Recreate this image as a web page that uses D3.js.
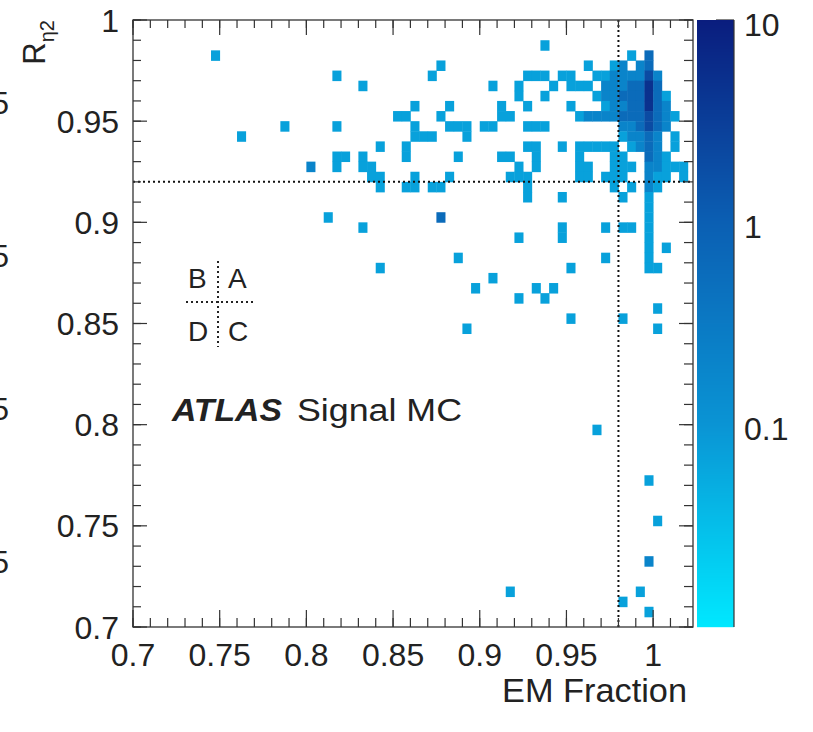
<!DOCTYPE html>
<html>
<head>
<meta charset="utf-8">
<script src="https://cdn.jsdelivr.net/npm/d3@7"></script>
<style>
  body { margin: 0; background: #fff; }
  text { font-family: "Liberation Sans", Arial, Helvetica, sans-serif; fill: #222; }
</style>
</head>
<body>
<svg id="chart" width="813" height="732"></svg>
<script>
// axis ranges and ticks
const xDomain = [0.7, 1.023];
const yDomain = [0.7, 1.0];
const zDomain = [0.01, 10];
const binWidth = 0.005;
const xTickLabels = [0.7, 0.75, 0.8, 0.85, 0.9, 0.95, 1];
const yTickLabels = [0.7, 0.75, 0.8, 0.85, 0.9, 0.95, 1];
const zTickLabels = [0.1, 1, 10];
const cutEM = 0.98, cutR = 0.92;

// histogram content, one row per R_eta2 bin (lower edges)
const rowY = [0.985, 0.98, 0.975, 0.97, 0.965, 0.96, 0.955, 0.95, 0.945, 0.94, 0.935, 0.93,
  0.925, 0.92, 0.915, 0.91, 0.905, 0.9, 0.895, 0.89, 0.885, 0.88, 0.875, 0.87, 0.865, 0.86,
  0.855, 0.85, 0.845, 0.795, 0.77, 0.75, 0.73, 0.715, 0.71, 0.705];
// EM fraction bin lower edges in each row
const rowX = [
  [0.935],
  [0.745, 0.985, 0.995],
  [0.875, 0.96, 0.975, 0.98, 0.99, 0.995],
  [0.815, 0.87, 0.925, 0.93, 0.935, 0.945, 0.95, 0.965, 0.97, 0.975, 0.98, 0.985, 0.99, 0.995, 1.0],
  [0.83, 0.905, 0.92, 0.94, 0.95, 0.955, 0.96, 0.97, 0.975, 0.98, 0.985, 0.99, 0.995, 1.0],
  [0.92, 0.935, 0.965, 0.97, 0.975, 0.98, 0.985, 0.99, 0.995, 1.0, 1.005],
  [0.86, 0.88, 0.91, 0.925, 0.95, 0.97, 0.975, 0.98, 0.985, 0.99, 0.995, 1.0, 1.005],
  [0.85, 0.855, 0.875, 0.91, 0.915, 0.955, 0.96, 0.965, 0.97, 0.975, 0.98, 0.985, 0.99, 0.995, 1.0, 1.005, 1.01],
  [0.785, 0.815, 0.86, 0.88, 0.885, 0.89, 0.9, 0.905, 0.925, 0.93, 0.935, 0.98, 0.985, 0.99, 0.995, 1.0, 1.005],
  [0.76, 0.86, 0.865, 0.87, 0.89, 0.98, 0.985, 0.99, 0.995, 1.0, 1.01],
  [0.84, 0.855, 0.925, 0.93, 0.945, 0.955, 0.96, 0.965, 0.97, 0.975, 0.985, 0.99, 0.995, 1.0, 1.01],
  [0.815, 0.82, 0.83, 0.855, 0.885, 0.91, 0.915, 0.93, 0.955, 0.975, 0.98, 0.995, 1.0, 1.005],
  [0.8, 0.815, 0.83, 0.835, 0.92, 0.93, 0.955, 0.96, 0.975, 0.98, 0.985, 0.995, 1.0, 1.005, 1.01, 1.015],
  [0.835, 0.84, 0.86, 0.88, 0.915, 0.92, 0.925, 0.955, 0.96, 0.97, 0.975, 0.98, 0.995, 1.0, 1.005, 1.015],
  [0.84, 0.855, 0.86, 0.87, 0.875, 0.925, 0.975, 0.985, 0.995, 1.0],
  [0.925, 0.945, 0.98, 0.995],
  [0.995],
  [0.81, 0.875, 0.995],
  [0.83, 0.945, 0.97, 0.98, 0.985, 0.995],
  [0.92, 0.945, 0.995],
  [0.995, 1.005],
  [0.885, 0.97, 0.995],
  [0.84, 0.95, 0.995, 1.0],
  [0.905],
  [0.895, 0.93, 0.94],
  [0.92, 0.935],
  [1.0],
  [0.95, 0.98],
  [0.89, 1.0],
  [0.965],
  [0.995],
  [1.0],
  [0.995],
  [0.915, 0.99],
  [0.98],
  [0.995]
];
// bin contents, same layout as rowX
const rowW = [
  [0.07],
  [0.07, 0.07, 0.6],
  [0.07, 0.07, 0.07, 0.2, 0.2, 0.6],
  [0.07, 0.07, 0.07, 0.07, 0.07, 0.07, 0.07, 0.07, 0.07, 0.2, 0.2, 0.2, 0.2, 2, 0.2],
  [0.07, 0.07, 0.07, 0.07, 0.07, 0.07, 0.07, 0.2, 0.2, 0.2, 0.6, 0.6, 5, 0.6],
  [0.07, 0.07, 0.07, 0.2, 0.2, 0.6, 0.6, 0.6, 5, 0.6, 0.07],
  [0.07, 0.07, 0.07, 0.07, 0.07, 0.07, 0.2, 0.2, 0.6, 0.6, 5, 0.6, 0.2],
  [0.07, 0.07, 0.07, 0.07, 0.07, 0.07, 0.2, 0.2, 0.2, 0.2, 0.6, 0.6, 0.6, 2, 0.6, 0.2, 0.07],
  [0.07, 0.07, 0.07, 0.07, 0.07, 0.07, 0.07, 0.07, 0.07, 0.07, 0.07, 0.2, 0.2, 0.6, 2, 0.6, 0.2],
  [0.07, 0.07, 0.07, 0.07, 0.07, 0.07, 0.2, 0.2, 0.6, 0.2, 0.07],
  [0.07, 0.07, 0.07, 0.07, 0.07, 0.07, 0.07, 0.07, 0.07, 0.07, 0.07, 0.2, 0.6, 0.2, 0.07],
  [0.07, 0.07, 0.07, 0.07, 0.07, 0.07, 0.07, 0.07, 0.07, 0.07, 0.07, 0.6, 0.2, 0.07],
  [0.2, 0.07, 0.07, 0.07, 0.07, 0.07, 0.07, 0.07, 0.07, 0.07, 0.07, 0.2, 0.2, 0.07, 0.07, 0.07],
  [0.07, 0.07, 0.07, 0.07, 0.07, 0.07, 0.07, 0.07, 0.07, 0.07, 0.07, 0.07, 0.2, 0.07, 0.07, 0.07],
  [0.07, 0.07, 0.07, 0.07, 0.07, 0.07, 0.07, 0.07, 0.2, 0.07],
  [0.07, 0.07, 0.07, 0.07],
  [0.07],
  [0.07, 0.6, 0.07],
  [0.07, 0.07, 0.07, 0.07, 0.07, 0.07],
  [0.07, 0.07, 0.07],
  [0.07, 0.07],
  [0.07, 0.07, 0.07],
  [0.07, 0.07, 0.07, 0.07],
  [0.07],
  [0.07, 0.07, 0.07],
  [0.07, 0.07],
  [0.07],
  [0.07, 0.07],
  [0.07, 0.07],
  [0.07],
  [0.07],
  [0.07],
  [0.2],
  [0.07, 0.07],
  [0.07],
  [0.07]
];

const svg = d3.select("#chart");
const frame = {left: 133, right: 693, top: 20, bottom: 627};

const x = d3.scaleLinear().domain(xDomain).range([frame.left, frame.right]);
const y = d3.scaleLinear().domain(yDomain).range([frame.bottom, frame.top]);
const zPos = d3.scaleLog().domain(zDomain).range([frame.bottom, frame.top]);
const color = d3.scaleLog()
    .domain([0.01, 0.1, 1, 10])
    .range(["#00e8ff", "#0a94d4", "#0b5fb3", "#0a1d7e"])
    .interpolate(d3.interpolateRgb)
    .clamp(true);

// flatten rows into cells
let cells = [];
rowY.forEach(function(yv, r) {
    rowX[r].forEach(function(xv, k) {
        cells.push({x: xv, y: yv, w: rowW[r][k]});
    });
});

svg.append("g").selectAll("rect.bin")
    .data(cells)
    .enter().append("rect")
    .attr("class", "bin")
    .attr("x", d => x(d.x))
    .attr("y", d => y(d.y + binWidth))
    .attr("width", d => x(d.x + binWidth) - x(d.x) + 0.4)
    .attr("height", d => y(d.y) - y(d.y + binWidth) + 0.4)
    .style("fill", d => color(d.w));

// ABCD cut lines
svg.append("line")
    .attr("x1", x(cutEM)).attr("x2", x(cutEM))
    .attr("y1", frame.top).attr("y2", frame.bottom)
    .style("stroke", "#111").style("stroke-width", 2)
    .style("stroke-dasharray", "2,3");
svg.append("line")
    .attr("x1", frame.left).attr("x2", frame.right)
    .attr("y1", y(cutR)).attr("y2", y(cutR))
    .style("stroke", "#111").style("stroke-width", 2)
    .style("stroke-dasharray", "2,3");

// frame
svg.append("rect")
    .attr("x", frame.left).attr("y", frame.top)
    .attr("width", frame.right - frame.left).attr("height", frame.bottom - frame.top)
    .style("fill", "none").style("stroke", "#333").style("stroke-width", 1.3);

// ticks, ROOT style (inside, on all four sides)
const axisG = svg.append("g").style("stroke", "#333").style("stroke-width", 1.2);
const xMinor = d3.range(Math.round(xDomain[0] * 100), Math.floor(xDomain[1] * 100) + 1).map(v => v / 100);
const xMajor = xTickLabels;
axisG.selectAll("line.xb").data(xMinor).enter().append("line")
    .attr("x1", d => x(d)).attr("x2", d => x(d))
    .attr("y1", frame.bottom).attr("y2", frame.bottom - 9);
axisG.selectAll("line.xbm").data(xMajor).enter().append("line")
    .attr("x1", d => x(d)).attr("x2", d => x(d))
    .attr("y1", frame.bottom).attr("y2", frame.bottom - 17);
axisG.selectAll("line.xt").data(xMinor).enter().append("line")
    .attr("x1", d => x(d)).attr("x2", d => x(d))
    .attr("y1", frame.top).attr("y2", frame.top + 8);
axisG.selectAll("line.xtm").data(xMajor).enter().append("line")
    .attr("x1", d => x(d)).attr("x2", d => x(d))
    .attr("y1", frame.top).attr("y2", frame.top + 15);

const yMinor = d3.range(70, 101).map(v => v / 100);
axisG.selectAll("line.yl").data(yMinor).enter().append("line")
    .attr("x1", frame.left).attr("x2", frame.left + 8)
    .attr("y1", d => y(d)).attr("y2", d => y(d));
axisG.selectAll("line.ylm").data(yTickLabels).enter().append("line")
    .attr("x1", frame.left).attr("x2", frame.left + 14)
    .attr("y1", d => y(d)).attr("y2", d => y(d));
axisG.selectAll("line.yr").data(yMinor).enter().append("line")
    .attr("x1", frame.right).attr("x2", frame.right - 9)
    .attr("y1", d => y(d)).attr("y2", d => y(d));
axisG.selectAll("line.yrm").data(yTickLabels).enter().append("line")
    .attr("x1", frame.right).attr("x2", frame.right - 14)
    .attr("y1", d => y(d)).attr("y2", d => y(d));

// tick labels
svg.append("g").selectAll("text")
    .data(xTickLabels).enter().append("text")
    .attr("x", d => x(d)).attr("y", 666)
    .attr("text-anchor", "middle")
    .attr("font-size", 32)
    .text(d => d3.format("")(d));
svg.append("g").selectAll("text")
    .data(yTickLabels).enter().append("text")
    .attr("x", 119).attr("y", d => y(d))
    .attr("dy", "0.36em")
    .attr("text-anchor", "end")
    .attr("font-size", 32)
    .text(d => d3.format("")(d));

// axis titles
svg.append("text")
    .attr("x", 687).attr("y", 702)
    .attr("text-anchor", "end")
    .attr("font-size", 33)
    .attr("textLength", 185)
    .attr("lengthAdjust", "spacingAndGlyphs")
    .text("EM Fraction");
const yTitle = svg.append("text")
    .attr("transform", "translate(45,20) rotate(-90)")
    .attr("text-anchor", "end")
    .attr("font-size", 31);
yTitle.append("tspan").text("R");
yTitle.append("tspan").attr("font-size", 20).attr("dy", 9).text("\u03b72");

// colour bar
const barX0 = 697, barX1 = 734;
svg.append("g").selectAll("rect")
    .data(d3.range(frame.top, frame.bottom))
    .enter().append("rect")
    .attr("x", barX0).attr("y", d => d)
    .attr("width", barX1 - barX0).attr("height", 1.2)
    .style("fill", d => color(zPos.invert(d + 0.5)));
svg.append("line")
    .attr("x1", barX1).attr("x2", barX1)
    .attr("y1", frame.top).attr("y2", frame.bottom)
    .style("stroke", "#333").style("stroke-width", 1.2);
const zMinor = [];
[0.01, 0.1, 1].forEach(function(dec) {
    d3.range(2, 10).forEach(function(m) { zMinor.push(dec * m); });
});
axisG.selectAll("line.zm").data(zMinor).enter().append("line")
    .attr("x1", barX1).attr("x2", barX1 - 10)
    .attr("y1", d => zPos(d)).attr("y2", d => zPos(d));
axisG.selectAll("line.zM").data(zTickLabels).enter().append("line")
    .attr("x1", barX1).attr("x2", barX1 - 18)
    .attr("y1", d => zPos(d)).attr("y2", d => zPos(d));
svg.append("g").selectAll("text")
    .data(zTickLabels).enter().append("text")
    .attr("x", 744).attr("y", d => zPos(d) + 4)
    .attr("dy", "0.36em")
    .attr("font-size", 32)
    .text(d => d3.format("")(d));

// ABCD region legend
const leg = svg.append("g").attr("font-size", 28);
leg.append("text").attr("x", 188).attr("y", 288).text("B");
leg.append("text").attr("x", 228).attr("y", 288).text("A");
leg.append("text").attr("x", 188).attr("y", 341).text("D");
leg.append("text").attr("x", 228).attr("y", 341).text("C");
leg.append("line").attr("x1", 186).attr("x2", 256).attr("y1", 302).attr("y2", 302)
    .style("stroke", "#222").style("stroke-width", 2).style("stroke-dasharray", "2,3");
leg.append("line").attr("x1", 218).attr("x2", 218).attr("y1", 261).attr("y2", 347)
    .style("stroke", "#222").style("stroke-width", 2).style("stroke-dasharray", "2,3");

// ATLAS label
svg.append("text").attr("x", 172).attr("y", 421)
    .attr("font-size", 31).attr("font-weight", "bold").attr("font-style", "italic")
    .attr("textLength", 110).attr("lengthAdjust", "spacingAndGlyphs")
    .text("ATLAS");
svg.append("text").attr("x", 297).attr("y", 421)
    .attr("font-size", 31)
    .attr("textLength", 165).attr("lengthAdjust", "spacingAndGlyphs")
    .text("Signal MC");

// tick labels of the neighbouring panel, cut by the left edge
svg.append("g").selectAll("text")
    .data([0.95, 0.9, 0.85, 0.8])
    .enter().append("text")
    .attr("x", 9)
    .attr("y", (d, i) => 103 + i * 153)
    .attr("dy", "0.36em")
    .attr("text-anchor", "end")
    .attr("font-size", 31)
    .text("5");
</script>
</body>
</html>
